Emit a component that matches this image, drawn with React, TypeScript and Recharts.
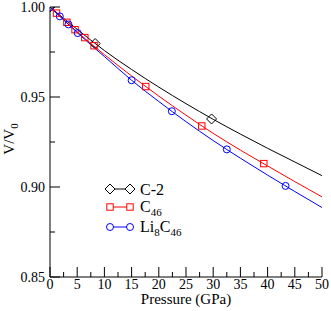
import React from 'react';
import { ComposedChart, Line, Scatter, XAxis, YAxis, Customized } from 'recharts';

// Fitted equation-of-state curves
const curvePressure = [0, 2.5, 5, 7.5, 10, 15, 20, 25, 30, 35, 40, 45, 50];
const c2Curve = [1.0, 0.9937, 0.9876, 0.9816, 0.9758, 0.9653, 0.9555, 0.9463, 0.9376, 0.9294, 0.9215, 0.9139, 0.9063];
const c46Curve = [1.0, 0.993, 0.9862, 0.9797, 0.9735, 0.9617, 0.9505, 0.9399, 0.9298, 0.9205, 0.9117, 0.903, 0.8945];
const li8c46Curve = [1.0, 0.9928, 0.9858, 0.979, 0.9725, 0.9593, 0.9475, 0.9363, 0.9258, 0.916, 0.9066, 0.8975, 0.8886];

// Calculated points (markers)
const c2Pressure = [0, 8.3, 29.7];
const c2Volume = [1.0, 0.9797, 0.9378];
const c46Pressure = [0, 1.2, 3.1, 4.6, 6.4, 8.1, 17.6, 27.9, 39.3];
const c46Volume = [1.0, 0.9966, 0.9915, 0.9874, 0.983, 0.9785, 0.9558, 0.9339, 0.913];
const li8c46Pressure = [0, 1.8, 3.4, 5.1, 15.0, 22.4, 32.5, 43.3];
const li8c46Volume = [1.0, 0.9948, 0.9903, 0.9855, 0.9593, 0.9421, 0.9209, 0.9006];

const xTicks = [0, 2.5, 5, 7.5, 10, 12.5, 15, 17.5, 20, 22.5, 25, 27.5, 30, 32.5, 35, 37.5, 40, 42.5, 45, 47.5, 50];
const yTicks = [0.85, 0.875, 0.9, 0.925, 0.95, 0.975, 1.0];

const rows = (ps: number[], vs: number[]) => ps.map((p, i) => ({ p, v: vs[i] }));

const FONT = 'Liberation Serif';
const ts = { fontFamily: FONT } as React.CSSProperties;

const isMajorX = (v: number) => Math.abs(v / 5 - Math.round(v / 5)) < 1e-6;
const isMajorY = (v: number) => Math.round(v * 1000) % 50 === 0;

const BottomTick = (props: any) => {
  const { x, y, payload } = props;
  const v = payload.value;
  const major = isMajorX(v);
  return (
    <g>
      <line x1={x} x2={x} y1={y} y2={y - (major ? 10 : 5)} stroke="#000" strokeWidth={1} />
      {major && (
        <text x={x} y={y + 12} textAnchor="middle" style={ts} fontFamily={FONT} fontSize={14} fill="#000" stroke="none">
          {v}
        </text>
      )}
    </g>
  );
};

const TopTick = (props: any) => {
  const { x, y, payload } = props;
  const major = isMajorX(payload.value);
  return <line x1={x} x2={x} y1={y} y2={y + (major ? 10 : 5)} stroke="#000" strokeWidth={1} />;
};

const LeftTick = (props: any) => {
  const { x, y, payload } = props;
  const v = payload.value;
  const major = isMajorY(v);
  return (
    <g>
      <line x1={x} x2={x + (major ? 10 : 5)} y1={y} y2={y} stroke="#000" strokeWidth={1} />
      {major && (
        <text x={x - 5} y={y + 5} textAnchor="end" style={ts} fontFamily={FONT} fontSize={14} fill="#000" stroke="none">
          {v.toFixed(2)}
        </text>
      )}
    </g>
  );
};

const RightTick = (props: any) => {
  const { x, y, payload } = props;
  const major = isMajorY(payload.value);
  return <line x1={x} x2={x - (major ? 10 : 5)} y1={y} y2={y} stroke="#000" strokeWidth={1} />;
};

const diamondPath = (cx: number, cy: number, r: number) =>
  `M${cx},${cy - r}L${cx + r},${cy}L${cx},${cy + r}L${cx - r},${cy}Z`;

const DiamondShape = (props: any) => (
  <path d={diamondPath(props.cx, props.cy, 5)} fill="none" stroke="#000" strokeWidth={1} />
);
const SquareShape = (props: any) => (
  <rect x={props.cx - 3.2} y={props.cy - 3.2} width={6.4} height={6.4} fill="none" stroke="#ff0000" strokeWidth={1} />
);
const CircleShape = (props: any) => (
  <circle cx={props.cx} cy={props.cy} r={3.5} fill="none" stroke="#0000ff" strokeWidth={1} />
);

const Decorations = () => {
  const lx1 = 110;
  const lx2 = 130;
  const tx = 140;
  return (
    <g style={ts}>
      <text transform="translate(14,139) rotate(-90)" textAnchor="middle" fontSize={15} style={ts} fontFamily={FONT} fill="#000" stroke="none">
        V/V<tspan dy={4} fontSize={11}>0</tspan>
      </text>
      <text x={186} y={304} textAnchor="middle" fontSize={15} style={ts} fontFamily={FONT} fill="#000" stroke="none">Pressure (GPa)</text>
      {/* legend */}
      <line x1={lx1} x2={lx2} y1={189} y2={189} stroke="#000" />
      <path d={diamondPath(lx1, 189, 5)} fill="#fff" stroke="#000" />
      <path d={diamondPath(lx2, 189, 5)} fill="#fff" stroke="#000" />
      <text x={tx} y={195} fontSize={16} style={ts} fontFamily={FONT} fill="#000" stroke="none">C-2</text>
      <line x1={lx1} x2={lx2} y1={207} y2={207} stroke="#ff0000" />
      <rect x={lx1 - 3.2} y={207 - 3.2} width={6.4} height={6.4} fill="#fff" stroke="#ff0000" />
      <rect x={lx2 - 3.2} y={207 - 3.2} width={6.4} height={6.4} fill="#fff" stroke="#ff0000" />
      <text x={tx} y={212} fontSize={16} style={ts} fontFamily={FONT} fill="#000" stroke="none">
        C<tspan dy={4} fontSize={11}>46</tspan>
      </text>
      <line x1={lx1} x2={lx2} y1={227} y2={227} stroke="#0000ff" />
      <circle cx={lx1} cy={227} r={3.5} fill="#fff" stroke="#0000ff" />
      <circle cx={lx2} cy={227} r={3.5} fill="#fff" stroke="#0000ff" />
      <text x={tx} y={232} fontSize={16} style={ts} fontFamily={FONT} fill="#000" stroke="none">
        Li<tspan dy={4} fontSize={11}>8</tspan><tspan dy={-4}>C</tspan><tspan dy={4} fontSize={11}>46</tspan>
      </text>
    </g>
  );
};

export default function App() {
  return (
    <div style={{ position: 'absolute', left: 0, top: 0, fontFamily: FONT }}>
      <ComposedChart
        width={331}
        height={311}
        margin={{ top: 7, right: 9, bottom: 0, left: 0 }}
        style={{ fontFamily: FONT }}
      >
        <XAxis
          xAxisId={0}
          type="number"
          dataKey="p"
          domain={[0, 50]}
          ticks={xTicks}
          interval={0}
          allowDataOverflow
          height={34}
          tickSize={0}
          tickMargin={0}
          tickLine={false}
          axisLine={{ stroke: '#000' }}
          tick={<BottomTick />}
        />
        <XAxis
          xAxisId="top"
          orientation="top"
          type="number"
          domain={[0, 50]}
          ticks={xTicks}
          interval={0}
          allowDataOverflow
          height={0}
          tickSize={0}
          tickMargin={0}
          tickLine={false}
          axisLine={{ stroke: '#000' }}
          tick={<TopTick />}
        />
        <YAxis
          yAxisId={0}
          type="number"
          dataKey="v"
          domain={[0.85, 1.0]}
          ticks={yTicks}
          interval={0}
          allowDataOverflow
          width={50}
          tickSize={0}
          tickMargin={0}
          tickLine={false}
          axisLine={{ stroke: '#000' }}
          tick={<LeftTick />}
        />
        <YAxis
          yAxisId="right"
          orientation="right"
          type="number"
          domain={[0.85, 1.0]}
          ticks={yTicks}
          interval={0}
          allowDataOverflow
          width={0}
          tickSize={0}
          tickMargin={0}
          tickLine={false}
          axisLine={{ stroke: '#000' }}
          tick={<RightTick />}
        />
        <Line
          data={rows(curvePressure, c2Curve)}
          dataKey="v"
          type="monotone"
          stroke="#000"
          strokeWidth={1}
          dot={false}
          activeDot={false}
          isAnimationActive={false}
        />
        <Line
          data={rows(curvePressure, c46Curve)}
          dataKey="v"
          type="monotone"
          stroke="#ff0000"
          strokeWidth={1}
          dot={false}
          activeDot={false}
          isAnimationActive={false}
        />
        <Line
          data={rows(curvePressure, li8c46Curve)}
          dataKey="v"
          type="monotone"
          stroke="#0000ff"
          strokeWidth={1}
          dot={false}
          activeDot={false}
          isAnimationActive={false}
        />
        <Scatter data={rows(c2Pressure, c2Volume)} shape={DiamondShape} isAnimationActive={false} />
        <Scatter data={rows(c46Pressure, c46Volume)} shape={SquareShape} isAnimationActive={false} />
        <Scatter data={rows(li8c46Pressure, li8c46Volume)} shape={CircleShape} isAnimationActive={false} />
        <Customized component={Decorations} />
      </ComposedChart>
    </div>
  );
}
